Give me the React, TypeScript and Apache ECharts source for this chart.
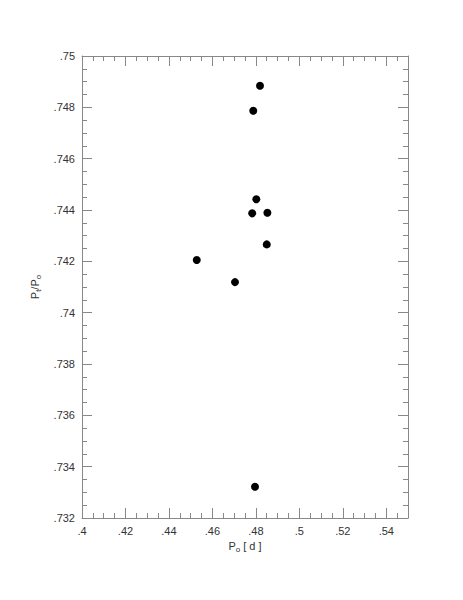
import React, { useEffect, useRef } from "react";
import * as echarts from "echarts";

const xValues = [0.4819, 0.4788, 0.4802, 0.4783, 0.4853, 0.4528, 0.4704, 0.4850, 0.4796];
const yValues = [0.74884, 0.74787, 0.74442, 0.74387, 0.74389, 0.74205, 0.74119, 0.74266, 0.73322];

const xMin = 0.4, xMax = 0.55, xStep = 0.02;
const yMin = 0.732, yMax = 0.75, yStep = 0.002;

const fmt = (v: number) => String(+v.toFixed(4)).replace(/^0/, "");

export default function App() {
  const ref = useRef<HTMLDivElement>(null);
  useEffect(() => {
    const chart = echarts.init(ref.current!, null, { renderer: "svg" });
    const font = "Liberation Sans, Arial, sans-serif";
    const axisLine = { show: true, lineStyle: { color: "#888", width: 1 } };
    const tick = { show: true, inside: true, length: 10, lineStyle: { color: "#888" } };
    const minor = { show: true, splitNumber: 4, length: 5, lineStyle: { color: "#888" } };
    const label = { color: "#333", fontSize: 11, fontFamily: font, formatter: fmt };
    const data = xValues.map((x, i) => [x, yValues[i]]);
    chart.setOption({
      animation: false,
      backgroundColor: "#fff",
      grid: { left: 82, top: 56, width: 326, height: 462, containLabel: false },
      xAxis: [
        {
          type: "value", min: xMin, max: xMax, interval: xStep, position: "bottom",
          axisLine, axisTick: tick, minorTick: minor, splitLine: { show: false },
          axisLabel: { ...label, margin: 7, showMaxLabel: false },
          name: "{a|P}{s|o}{a| [ d ]}", nameLocation: "middle", nameGap: 20,
          nameTextStyle: {
            rich: {
              a: { fontSize: 11, color: "#333", fontFamily: font },
              s: { fontSize: 8, color: "#333", fontFamily: font, padding: [7, 0, 0, 0] },
            },
          },
        },
        {
          type: "value", min: xMin, max: xMax, interval: xStep, position: "top",
          axisLine, axisTick: tick, minorTick: minor, splitLine: { show: false },
          axisLabel: { show: false },
        },
      ],
      yAxis: [
        {
          type: "value", min: yMin, max: yMax, interval: yStep, position: "left",
          axisLine, axisTick: tick, minorTick: minor, splitLine: { show: false },
          axisLabel: { ...label, margin: 7 },
          name: "{a|P}{s|t}{a|/P}{s|o}", nameLocation: "middle", nameGap: 37, nameRotate: 90,
          nameTextStyle: {
            rich: {
              a: { fontSize: 11, color: "#333", fontFamily: font },
              s: { fontSize: 8, color: "#333", fontFamily: font, padding: [7, 0, 0, 0] },
            },
          },
        },
        {
          type: "value", min: yMin, max: yMax, interval: yStep, position: "right",
          axisLine, axisTick: tick, minorTick: minor, splitLine: { show: false },
          axisLabel: { show: false },
        },
      ],
      series: [
        {
          type: "scatter", xAxisIndex: 0, yAxisIndex: 0, data,
          symbol: "circle", symbolSize: 8,
          itemStyle: { color: "#000", opacity: 1 },
        },
      ],
    });
    return () => chart.dispose();
  }, []);
  return <div ref={ref} style={{ position: "fixed", left: 0, top: 0, width: 463, height: 600 }} />;
}
